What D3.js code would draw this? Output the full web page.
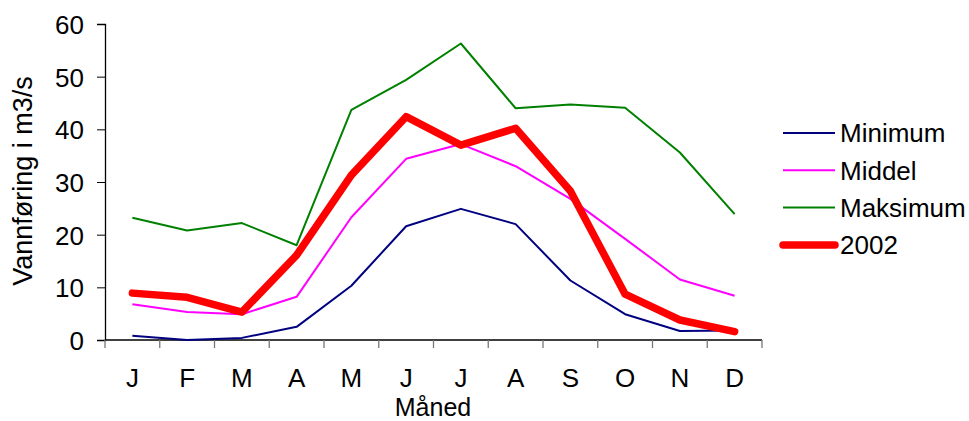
<!DOCTYPE html>
<html>
<head>
<meta charset="utf-8">
<script src="https://cdn.jsdelivr.net/npm/d3@7"></script>
<style>
  body { margin: 0; background: #fff; }
  svg text { font-family: "Liberation Sans", Arial, sans-serif; fill: #000; }
</style>
</head>
<body>
<svg id="chart" width="969" height="421"></svg>
<script>
var months = ['J', 'F', 'M', 'A', 'M', 'J', 'J', 'A', 'S', 'O', 'N', 'D'];
var yTicks = [0, 10, 20, 30, 40, 50, 60];

var minimum  = [0.8, 0.0, 0.4, 2.5, 10.3, 21.6, 24.9, 22.0, 11.3, 4.9, 1.7, 1.8];
var middel   = [6.8, 5.3, 4.9, 8.2, 23.3, 34.4, 37.2, 33.0, 26.8, 19.2, 11.5, 8.4];
var maksimum = [23.2, 20.8, 22.2, 18.0, 43.7, 49.4, 56.3, 44.0, 44.7, 44.1, 35.6, 23.9];
var aar2002  = [8.9, 8.1, 5.3, 16.1, 31.3, 42.4, 37.0, 40.2, 28.3, 8.7, 3.8, 1.6];

var series = [
    {name: 'Minimum',  values: minimum,  color: '#000080', width: 2},
    {name: 'Middel',   values: middel,   color: '#ff00ff', width: 2},
    {name: 'Maksimum', values: maksimum, color: '#008000', width: 2},
    {name: '2002',     values: aar2002,  color: '#ff0000', width: 7.5}
];

var svg = d3.select('#chart');
var plot = {left: 105, right: 762, top: 24, bottom: 340};
var fontSize = '26px';

var x = d3.scaleBand().domain(d3.range(12)).range([plot.left, plot.right]);
var y = d3.scaleLinear().domain([0, 60]).range([plot.bottom, plot.top]);

// y axis
var yAxis = svg.append('g')
    .attr('transform', 'translate(' + plot.left + ',0)')
    .call(d3.axisLeft(y).tickValues(yTicks).tickSize(8).tickPadding(13));
yAxis.select('.domain').attr('stroke', '#000').attr('stroke-width', 1.3);
yAxis.selectAll('.tick line').attr('stroke', '#000');
yAxis.selectAll('text')
    .style('font-size', fontSize)
    .style('font-family', '"Liberation Sans", Arial, sans-serif')
    .attr('fill', '#000')
    .attr('dy', '0.36em');

// x axis: ticks on band edges
var edges = d3.range(13).map(function(i) { return plot.left + i * x.bandwidth(); });
svg.append('line')
    .attr('x1', plot.left).attr('x2', plot.right)
    .attr('y1', plot.bottom).attr('y2', plot.bottom)
    .attr('stroke', '#000').attr('stroke-width', 1.3);
svg.selectAll('line.xtick').data(edges).enter().append('line')
    .attr('class', 'xtick')
    .attr('x1', function(d) { return d; }).attr('x2', function(d) { return d; })
    .attr('y1', plot.bottom).attr('y2', plot.bottom + 8)
    .attr('stroke', '#777').attr('stroke-width', 1.3);
svg.selectAll('text.month').data(months).enter().append('text')
    .attr('class', 'month')
    .attr('x', function(d, i) { return x(i) + x.bandwidth() / 2; })
    .attr('y', 387)
    .attr('text-anchor', 'middle')
    .style('font-size', fontSize)
    .text(function(d) { return d; });

svg.append('text')
    .attr('x', 433).attr('y', 415.5)
    .attr('text-anchor', 'middle')
    .style('font-size', '25px')
    .text('Måned');

svg.append('text')
    .attr('transform', 'translate(32,181) rotate(-90)')
    .attr('text-anchor', 'middle')
    .style('font-size', '27px')
    .text('Vannføring i m3/s');

// lines
var line = d3.line()
    .x(function(d, i) { return x(i) + x.bandwidth() / 2; })
    .y(function(d) { return y(d); });

svg.selectAll('path.series').data(series).enter().append('path')
    .attr('class', 'series')
    .attr('d', function(d) { return line(d.values); })
    .attr('fill', 'none')
    .attr('stroke', function(d) { return d.color; })
    .attr('stroke-width', function(d) { return d.width; })
    .attr('stroke-linejoin', 'round')
    .attr('stroke-linecap', function(d) { return d.width > 3 ? 'round' : 'butt'; });

// legend
var legend = svg.selectAll('g.legend').data(series).enter().append('g')
    .attr('class', 'legend')
    .attr('transform', function(d, i) { return 'translate(0,' + (133 + i * 37.3) + ')'; });
legend.append('line')
    .attr('x1', 783).attr('x2', 835)
    .attr('stroke', function(d) { return d.color; })
    .attr('stroke-width', function(d) { return d.width; })
    .attr('stroke-linecap', function(d) { return d.width > 3 ? 'round' : 'butt'; });
legend.append('text')
    .attr('x', 840).attr('dy', '0.36em')
    .style('font-size', fontSize)
    .text(function(d) { return d.name; });
</script>
</body>
</html>
